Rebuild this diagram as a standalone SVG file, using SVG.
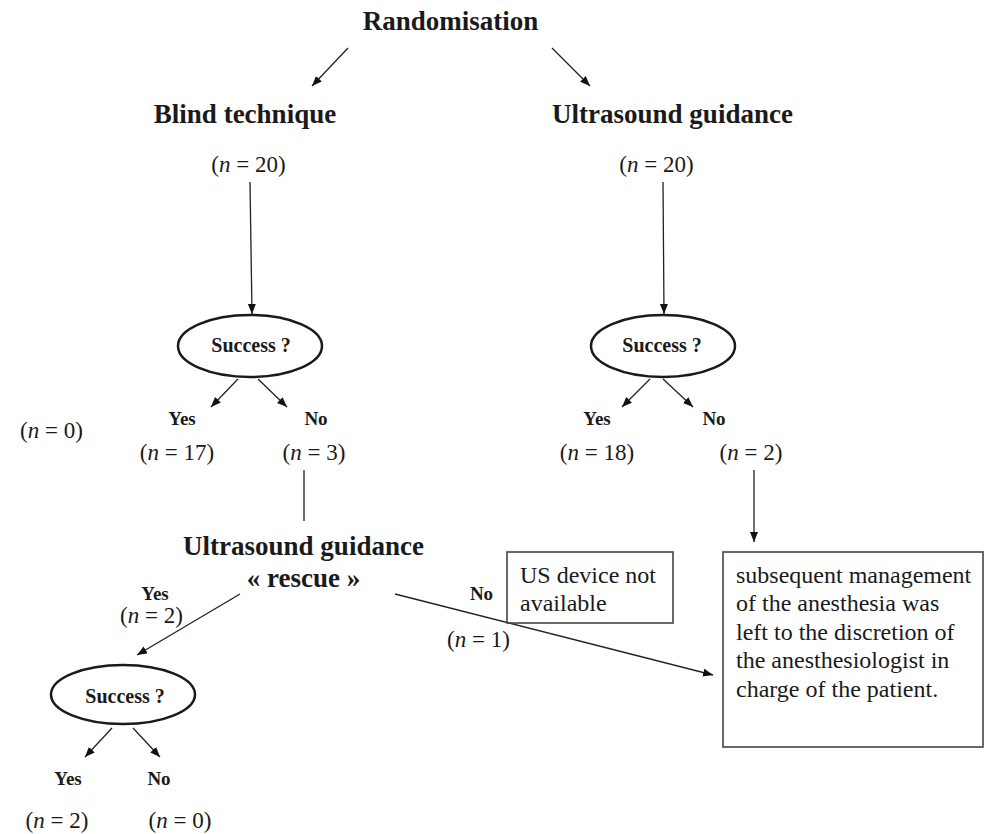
<svg xmlns="http://www.w3.org/2000/svg" width="984" height="834" viewBox="0 0 984 834">
<defs>
<style>
text{font-family:"Liberation Serif","Times New Roman",serif;fill:#1a1a1a}
.h{font-size:27px;font-weight:bold;text-anchor:middle}
.q{font-size:20px;font-weight:bold;text-anchor:middle}
.yn{font-size:19px;font-weight:bold;text-anchor:middle}
.n{font-size:23px;text-anchor:middle}
.b{font-size:24px}
.i{font-style:italic}
.c line{stroke:#222;stroke-width:1.3}
.arr{marker-end:url(#ah)}
ellipse{fill:#fff;stroke:#1a1a1a;stroke-width:2.5}
.box{fill:none;stroke:#444;stroke-width:1.6}
</style>
<marker id="ah" markerUnits="userSpaceOnUse" markerWidth="11" markerHeight="9" refX="10" refY="4" orient="auto">
<path d="M0,0 L10,4 L0,8 z" fill="#111"/>
</marker>
</defs>
<rect x="0" y="0" width="984" height="834" fill="#fff"/>

<g id="connectors" class="c">
<line class="arr" x1="348" y1="48" x2="312" y2="86"/>
<line class="arr" x1="552" y1="48" x2="590" y2="86"/>
<line class="arr" x1="250" y1="182" x2="252" y2="314"/>
<line class="arr" x1="663" y1="182" x2="664" y2="314"/>
<line class="arr" x1="238" y1="379" x2="211" y2="407"/>
<line class="arr" x1="258" y1="379" x2="287" y2="407"/>
<line class="arr" x1="650" y1="379" x2="622" y2="407"/>
<line class="arr" x1="663" y1="379" x2="693" y2="407"/>
<line x1="304" y1="470" x2="304" y2="521"/>
<line class="arr" x1="754" y1="470" x2="754" y2="542"/>
<line class="arr" x1="240" y1="594" x2="137" y2="655"/>
<line class="arr" x1="395" y1="594" x2="713" y2="675"/>
<line class="arr" x1="112" y1="728" x2="85" y2="757"/>
<line class="arr" x1="133" y1="728" x2="160" y2="757"/>
</g>

<g id="randomisation"><text class="h" x="450.5" y="30">Randomisation</text></g>

<g id="blind">
<text class="h" x="245" y="123">Blind technique</text>
<text class="n" x="248.5" y="172">(<tspan class="i">n</tspan> = 20)</text>
</g>

<g id="us">
<text class="h" x="672.5" y="123">Ultrasound guidance</text>
<text class="n" x="656.5" y="172">(<tspan class="i">n</tspan> = 20)</text>
</g>

<g id="success1">
<ellipse cx="250" cy="346" rx="72" ry="31"/>
<text class="q" x="251" y="352">Success ?</text>
</g>

<g id="success2">
<ellipse cx="663" cy="346" rx="72" ry="31"/>
<text class="q" x="662" y="352">Success ?</text>
</g>

<g id="blind-yes">
<text class="yn" x="182" y="425">Yes</text>
<text class="n" x="177" y="460">(<tspan class="i">n</tspan> = 17)</text>
</g>
<g id="blind-no">
<text class="yn" x="316" y="425">No</text>
<text class="n" x="314" y="460">(<tspan class="i">n</tspan> = 3)</text>
</g>
<g id="n0"><text class="n" x="51.5" y="438">(<tspan class="i">n</tspan> = 0)</text></g>

<g id="us-yes">
<text class="yn" x="597" y="425">Yes</text>
<text class="n" x="597" y="460">(<tspan class="i">n</tspan> = 18)</text>
</g>
<g id="us-no">
<text class="yn" x="714" y="425">No</text>
<text class="n" x="751" y="460">(<tspan class="i">n</tspan> = 2)</text>
</g>

<g id="rescue">
<text class="h" x="303.5" y="555">Ultrasound guidance</text>
<text class="h" x="303.5" y="587">« rescue »</text>
</g>

<g id="rescue-yes">
<text class="yn" x="155" y="600">Yes</text>
<text class="n" x="151.5" y="623">(<tspan class="i">n</tspan> = 2)</text>
</g>

<g id="rescue-no">
<text class="yn" x="481.5" y="600">No</text>
<text class="n" x="478.5" y="647">(<tspan class="i">n</tspan> = 1)</text>
</g>

<g id="us-device">
<rect class="box" x="507" y="552" width="166" height="71"/>
<text class="b" x="520" y="583">US device not</text>
<text class="b" x="520" y="611">available</text>
</g>

<g id="management">
<rect class="box" x="723" y="552" width="260" height="195"/>
<text class="b" x="736" y="583">subsequent management</text>
<text class="b" x="736" y="611">of the anesthesia was</text>
<text class="b" x="736" y="640">left to the discretion of</text>
<text class="b" x="736" y="668">the anesthesiologist in</text>
<text class="b" x="736" y="697">charge of the patient.</text>
</g>

<g id="success3">
<ellipse cx="123" cy="694.5" rx="72" ry="29.5"/>
<text class="q" x="125" y="703">Success ?</text>
</g>

<g id="rescue-success-yes">
<text class="yn" x="68" y="785">Yes</text>
<text class="n" x="57" y="828">(<tspan class="i">n</tspan> = 2)</text>
</g>
<g id="rescue-success-no">
<text class="yn" x="159" y="785">No</text>
<text class="n" x="180" y="828">(<tspan class="i">n</tspan> = 0)</text>
</g>
</svg>
